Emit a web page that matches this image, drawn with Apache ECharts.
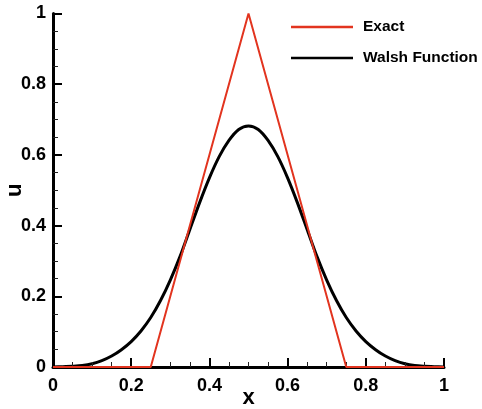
<!DOCTYPE html>
<html>
<head>
<meta charset="utf-8">
<script src="https://cdn.jsdelivr.net/npm/echarts@6/dist/echarts.min.js"></script>
<style>
  html, body { margin: 0; padding: 0; background: #fff; }
  #chart { width: 482px; height: 409px; }
</style>
</head>
<body>
<div id="chart"></div>
<script>
// Exact solution: triangular hat between x = 0.25 and x = 0.75
const exactX = [0, 0.25, 0.5, 0.75, 1];
const exactU = [0, 0, 1, 0, 0];

// Walsh function approximation, sampled every 0.025
const walshX = [0, 0.025, 0.05, 0.075, 0.1, 0.125, 0.15, 0.175, 0.2, 0.225,
  0.25, 0.275, 0.3, 0.325, 0.35, 0.375, 0.4, 0.425, 0.45, 0.475,
  0.5, 0.525, 0.55, 0.575, 0.6, 0.625, 0.65, 0.675, 0.7, 0.725,
  0.75, 0.775, 0.8, 0.825, 0.85, 0.875, 0.9, 0.925, 0.95, 0.975, 1];
const walshU = [0.000, 0.001, 0.002, 0.004, 0.009, 0.018, 0.031, 0.049, 0.072, 0.102,
  0.140, 0.188, 0.246, 0.313, 0.389, 0.465, 0.535, 0.595, 0.641, 0.672,
  0.682, 0.672, 0.641, 0.595, 0.535, 0.465, 0.389, 0.313, 0.246, 0.188,
  0.140, 0.102, 0.072, 0.049, 0.031, 0.018, 0.009, 0.004, 0.002, 0.001, 0.000];

const tickValues = [0, 0.2, 0.4, 0.6, 0.8, 1];

const seriesNames = ['Exact', 'Walsh Function'];
const red = '#e2341f';
const fontFamily = '"Liberation Sans", Arial, Helvetica, sans-serif';

const zip = (xs, ys) => xs.map((x, i) => [x, ys[i]]);

function axisCommon(nameGap) {
  return {
    type: 'value',
    min: tickValues[0],
    max: tickValues[tickValues.length - 1],
    interval: tickValues[1] - tickValues[0],
    nameLocation: 'middle',
    nameGap: nameGap,
    nameMoveOverlap: false,
    nameTextStyle: { fontFamily, fontWeight: 'bold', fontSize: 22, color: '#000' },
    axisLine: { show: true, lineStyle: { color: '#000', width: 3 } },
    axisTick: { show: true, inside: true, length: 9, lineStyle: { color: '#000', width: 2 } },
    minorTick: { show: true, splitNumber: 4, length: 5, lineStyle: { color: '#222', width: 1 } },
    splitLine: { show: false },
    axisLabel: {
      fontFamily, fontWeight: 'bold', fontSize: 18, color: '#000', margin: 7,
      formatter: v => String(v)
    },
    z: 3
  };
}

const chart = echarts.init(document.getElementById('chart'), null, { renderer: 'canvas' });
chart.setOption({
  animation: false,
  backgroundColor: '#fff',
  grid: { left: 53, right: 38, top: 13.5, bottom: 42, containLabel: false, outerBoundsMode: 'none' },
  xAxis: Object.assign(axisCommon(17), { name: 'x', offset: 3 }),
  yAxis: Object.assign(axisCommon(27), { name: 'u' }),
  legend: {
    data: seriesNames,
    orient: 'vertical',
    left: 291,
    top: 18.5,
    padding: 0,
    itemWidth: 62,
    itemHeight: 2.5,
    itemGap: 14,
    icon: 'rect',
    textStyle: { fontFamily, fontWeight: 'bold', fontSize: 15.5, color: '#000', lineHeight: 17, padding: [0, 0, 0, 5] }
  },
  series: [
    {
      name: seriesNames[1],
      type: 'line',
      data: zip(walshX, walshU),
      smooth: 0.3,
      showSymbol: false,
      lineStyle: { color: '#000', width: 3 },
      itemStyle: { color: '#000' },
      z: 2
    },
    {
      name: seriesNames[0],
      type: 'line',
      data: zip(exactX, exactU),
      showSymbol: false,
      lineStyle: { color: red, width: 2 },
      itemStyle: { color: red },
      z: 3
    }
  ]
});
</script>
</body>
</html>
